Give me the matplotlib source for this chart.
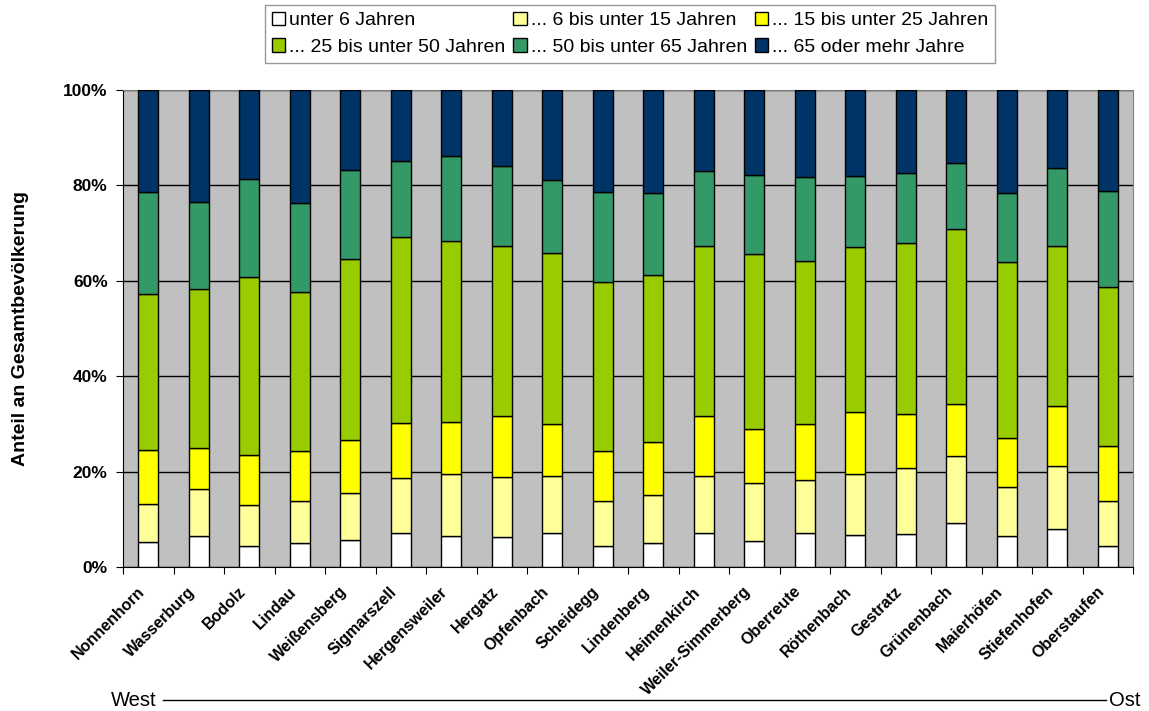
import matplotlib
matplotlib.use("Agg")
import matplotlib.pyplot as plt
from matplotlib.lines import Line2D
import matplotlib.transforms as mtransforms
import numpy as np

plt.rcParams['font.family'] = ['Liberation Sans', 'DejaVu Sans']

# Gemeinden von West nach Ost
gemeinden = ['Nonnenhorn', 'Wasserburg', 'Bodolz', 'Lindau', 'Weißensberg',
             'Sigmarszell', 'Hergensweiler', 'Hergatz', 'Opfenbach', 'Scheidegg',
             'Lindenberg', 'Heimenkirch', 'Weiler-Simmerberg', 'Oberreute',
             'Röthenbach', 'Gestratz', 'Grünenbach', 'Maierhöfen',
             'Stiefenhofen', 'Oberstaufen']

# Anteile je Altersgruppe in Prozent
unter_6 = [5.3, 6.6, 4.5, 5.0, 5.7, 7.1, 6.6, 6.3, 7.1, 4.5,
           5.0, 7.1, 5.5, 7.1, 6.8, 7.0, 9.3, 6.5, 8.0, 4.5]
von_6_15 = [7.9, 9.8, 8.4, 8.9, 9.9, 11.5, 12.9, 12.6, 11.9, 9.3,
            10.0, 12.0, 12.2, 11.1, 12.8, 13.7, 14.0, 10.3, 13.2, 9.4]
von_15_25 = [11.3, 8.6, 10.6, 10.5, 11.0, 11.5, 11.0, 12.7, 11.0, 10.6,
             11.3, 12.5, 11.2, 11.7, 12.8, 11.3, 10.8, 10.2, 12.5, 11.5]
von_25_50 = [32.8, 33.2, 37.4, 33.2, 37.9, 39.0, 37.9, 35.6, 35.9, 35.4,
             35.0, 35.6, 36.7, 34.2, 34.6, 36.0, 36.7, 36.9, 33.7, 33.4]
von_50_65 = [21.3, 18.3, 20.5, 18.7, 18.7, 16.0, 17.7, 16.8, 15.2, 18.8,
             17.2, 15.8, 16.5, 17.7, 14.9, 14.7, 13.8, 14.6, 16.3, 20.1]
ab_65 = [21.4, 23.5, 18.6, 23.7, 16.8, 14.9, 13.9, 16.0, 18.9, 21.4,
         21.5, 17.0, 17.9, 18.2, 18.1, 17.3, 15.4, 21.5, 16.3, 21.1]

gruppen = ['unter 6 Jahren', '... 6 bis unter 15 Jahren', '... 15 bis unter 25 Jahren',
           '... 25 bis unter 50 Jahren', '... 50 bis unter 65 Jahren', '... 65 oder mehr Jahre']
farben = ['#FFFFFF', '#FFFF99', '#FFFF00', '#99CC00', '#339966', '#003366']

werte = np.array([unter_6, von_6_15, von_15_25, von_25_50, von_50_65, ab_65])
werte = werte / werte.sum(axis=0) * 100

fig = plt.figure(figsize=(11.49, 7.11), dpi=100)
ax = fig.add_axes([123 / 1149, 1 - 567 / 711, 1010 / 1149, 477 / 711])
ax.set_facecolor('#C0C0C0')

x = np.arange(len(gemeinden))
unten = np.zeros(len(gemeinden))
balken = []
for i in range(len(gruppen)):
    b = ax.bar(x, werte[i], bottom=unten, width=0.4, color=farben[i],
               edgecolor='black', linewidth=1, label=gruppen[i], zorder=3)
    balken.append(b)
    unten += werte[i]

ax.set_xlim(-0.5, len(gemeinden) - 0.5)
ax.set_ylim(0, 100)
ax.set_yticks([0, 20, 40, 60, 80, 100])
ax.set_yticklabels(['0%', '20%', '40%', '60%', '80%', '100%'],
                   fontsize=12.5, fontweight='bold')
ax.yaxis.grid(True, color='black', linewidth=1, zorder=1)
ax.set_axisbelow(True)

# Striche zwischen den Gemeinden, Namen in der Mitte
ax.set_xticks(np.arange(-0.5, len(gemeinden), 1.0))
ax.set_xticklabels([])
ax.set_xticks(x, minor=True)
ax.set_xticklabels(gemeinden, minor=True, rotation=45, ha='right', va='center',
                   rotation_mode='anchor', fontsize=11.5, fontweight='bold')
ax.tick_params(axis='x', which='minor', length=0, pad=16)
ax.tick_params(axis='x', which='major', length=5, direction='out', color='black')
ax.tick_params(axis='y', length=5, direction='out', pad=6)
versatz = mtransforms.ScaledTranslation(-6 / 100, 0, fig.dpi_scale_trans)
for lab in ax.get_xticklabels(minor=True):
    lab.set_transform(lab.get_transform() + versatz)

for s in ['top', 'right']:
    ax.spines[s].set_color('#808080')
for s in ['left', 'bottom']:
    ax.spines[s].set_color('black')

fig.text(21 / 1149, 1 - 328 / 711, 'Anteil an Gesamtbevölkerung', rotation=90,
         ha='center', va='center', fontsize=14, fontweight='bold')

reihenfolge = [0, 3, 1, 4, 2, 5]
leg = fig.legend([balken[i] for i in reihenfolge], [gruppen[i] for i in reihenfolge],
                 ncol=3, loc='upper center', bbox_to_anchor=(630 / 1149, 1 - 5 / 711),
                 fontsize=14, frameon=True, fancybox=False, edgecolor='#808080',
                 handlelength=0.7, handleheight=0.7, handletextpad=0.2,
                 columnspacing=0.4, labelspacing=0.45, borderpad=0.35,
                 borderaxespad=0)
leg.get_frame().set_linewidth(1)

# Himmelsrichtung unter der Achse
fig.text(157 / 1149, 1 - 700 / 711, 'West', ha='right', va='center', fontsize=14.5)
fig.text(1109 / 1149, 1 - 700 / 711, 'Ost', ha='left', va='center', fontsize=14.5)
fig.add_artist(Line2D([163 / 1149, 1106 / 1149], [1 - 700 / 711, 1 - 700 / 711],
                      color='black', linewidth=1, transform=fig.transFigure))

fig.savefig('out.png', dpi=100)
plt.close(fig)
